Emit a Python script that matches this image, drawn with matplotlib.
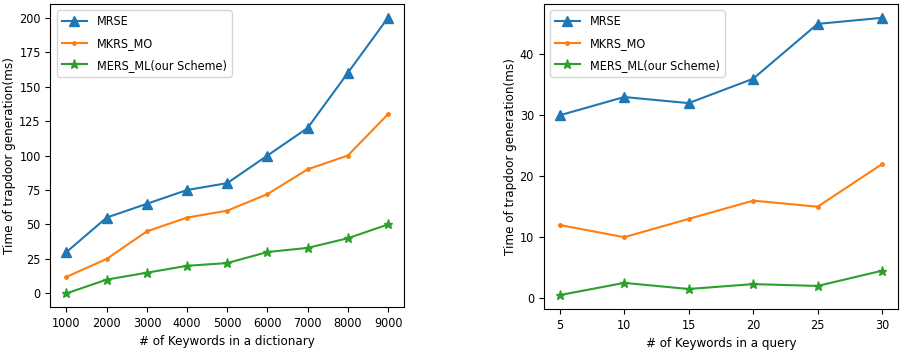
import matplotlib
matplotlib.use("Agg")
import matplotlib.pyplot as plt

plt.rcParams['font.stretch'] = 'condensed'

# left panel: keywords in dictionary
dict_sizes = [1000, 2000, 3000, 4000, 5000, 6000, 7000, 8000, 9000]
mrse_dict = [30, 55, 65, 75, 80, 100, 120, 160, 200]
mkrs_dict = [12, 25, 45, 55, 60, 72, 90, 100, 130]
mers_dict = [0, 10, 15, 20, 22, 30, 33, 40, 50]

# right panel: keywords in a query
query_sizes = [5, 10, 15, 20, 25, 30]
mrse_query = [30, 33, 32, 36, 45, 46]
mkrs_query = [12, 10, 13, 16, 15, 22]
mers_query = [0.5, 2.5, 1.5, 2.3, 2.0, 4.5]

labels = ["MRSE", "MKRS_MO", "MERS_ML(our Scheme)"]

fig = plt.figure(figsize=(9, 3.58), dpi=100)
ax1 = fig.add_axes([0.056, 0.142, 0.393, 0.847])
ax2 = fig.add_axes([0.604, 0.137, 0.394, 0.852])

def draw(ax, x, a, b, c, xlabel):
    ax.plot(x, a, marker="^", markersize=6.5, label=labels[0])
    ax.plot(x, b, marker=".", markersize=5, label=labels[1])
    ax.plot(x, c, marker="*", markersize=6.5, label=labels[2])
    ax.set_xticks(x)
    ax.set_xlabel(xlabel, fontsize=9.5, labelpad=4)
    ax.set_ylabel("Time of trapdoor generation(ms)", fontsize=9.5, labelpad=2)
    ax.tick_params(labelsize=9)
    ax.legend(loc="upper left", fontsize=9, labelspacing=0.7)

draw(ax1, dict_sizes, mrse_dict, mkrs_dict, mers_dict, "# of Keywords in a dictionary")
draw(ax2, query_sizes, mrse_query, mkrs_query, mers_query, "# of Keywords in a query")
ax2.set_yticks([0, 10, 20, 30, 40])

fig.savefig("out.png", dpi=100)
